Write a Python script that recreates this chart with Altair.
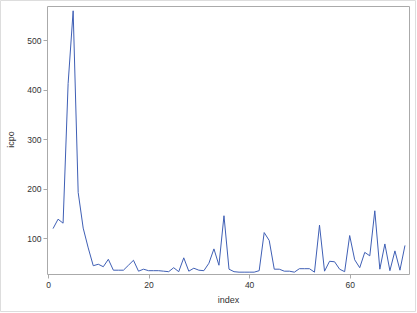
import altair as alt
import pandas as pd

index = list(range(1, 72))
icpo = [119, 138, 130, 412, 559, 192, 120, 80, 44, 47, 42, 57, 35, 35, 35, 45, 55, 33, 37, 34,
        34, 34, 33, 32, 40, 32, 60, 33, 39, 35, 34, 49, 78, 45, 145, 37, 32, 31, 31, 31,
        31, 34, 111, 95, 37, 37, 33, 33, 31, 38, 38, 38, 31, 126, 33, 53, 52, 37, 32, 105,
        56, 40, 71, 64, 155, 37, 88, 34, 74, 35, 85]

df = pd.DataFrame({"index": index, "icpo": icpo})

FONT = "Liberation Sans"

line = alt.Chart(df).mark_line(color="#3F5FB5", strokeWidth=1, clip=True).encode(
    x=alt.X("index:Q", scale=alt.Scale(domain=[-0.2, 71.8], nice=False, zero=False),
            axis=alt.Axis(values=[0, 20, 40, 60], title="index", titleY=21, titleBaseline="top")),
    y=alt.Y("icpo:Q", scale=alt.Scale(domain=[27.3, 568.7], nice=False, zero=False),
            axis=alt.Axis(values=[100, 200, 300, 400, 500], title="icpo",
                          titleX=-33.5, titleY=133, titleBaseline="alphabetic")),
)

border = alt.Chart(alt.Data(values=[{}])).mark_rect(
    fill=None, stroke="#DDDDDD", strokeWidth=1, clip=False
).encode(
    x=alt.value(-46.5), x2=alt.value(368.5), y=alt.value(-5.5), y2=alt.value(305.5)
)

chart = alt.layer(line, border).properties(
    width=362, height=268,
    autosize=alt.AutoSizeParams(type="none"),
    padding={"left": 47, "top": 6, "right": 8, "bottom": 39},
    background="white",
).configure_view(
    stroke="#AAAAAA", strokeWidth=1
).configure_axis(
    grid=False, domain=False, tickColor="#AAAAAA", tickSize=4,
    labelFont=FONT, labelFontSize=8.5, labelColor="#333333", labelPadding=2,
    titleFont=FONT, titleFontSize=9, titleColor="#333333", titleFontWeight="normal",
)

chart.save("out.html", embed_options={"renderer": "svg", "actions": False})
